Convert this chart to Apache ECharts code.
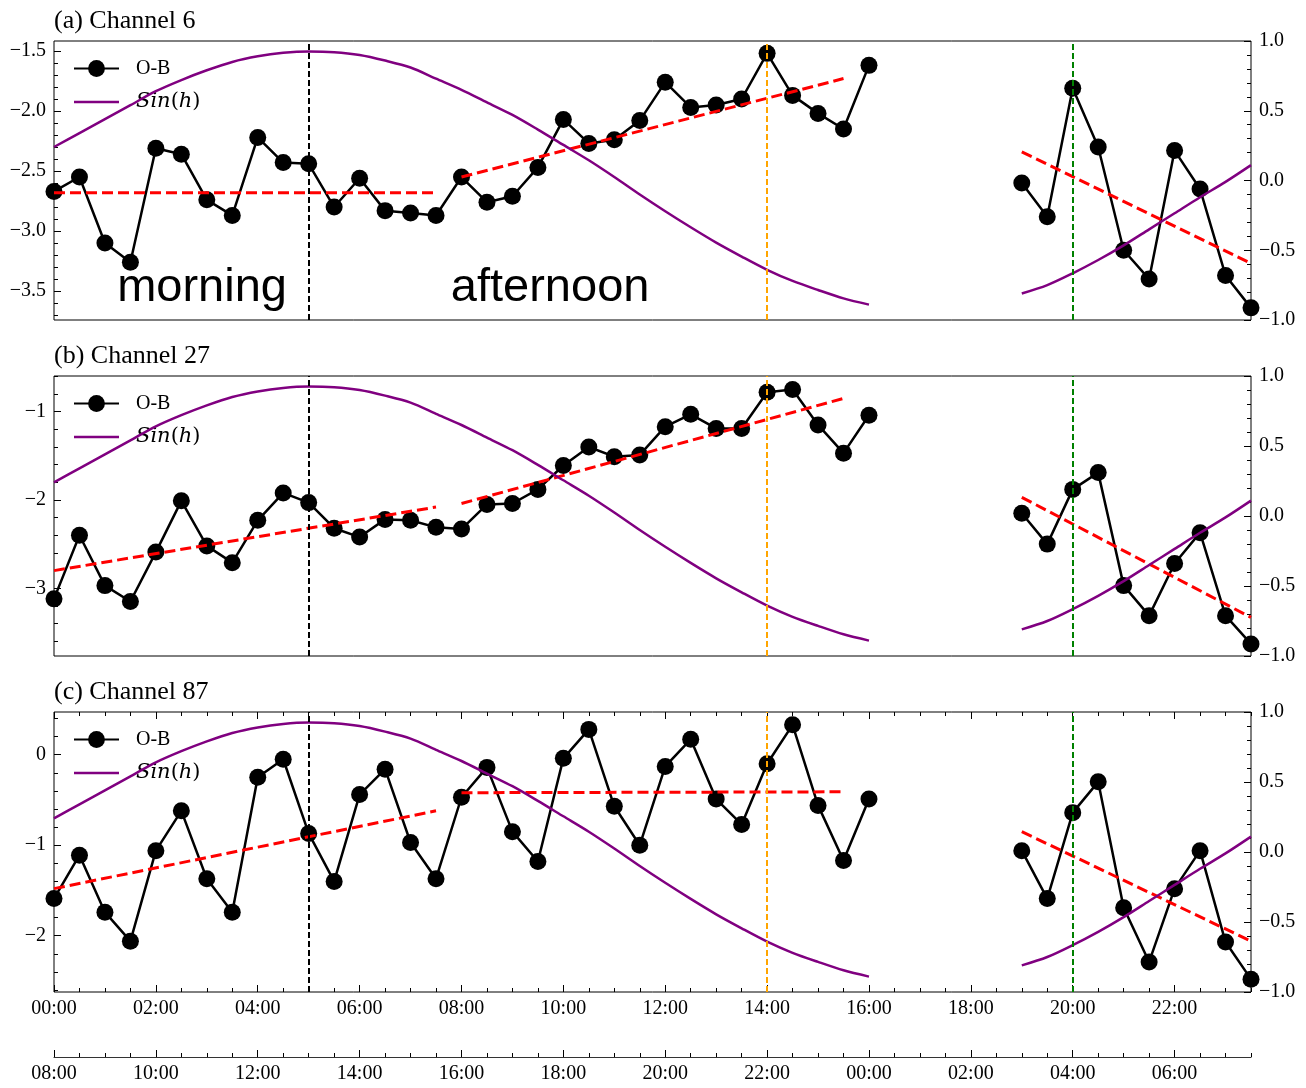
<!DOCTYPE html>
<html>
<head>
<meta charset="utf-8">
<script src="https://cdn.jsdelivr.net/npm/echarts@6/dist/echarts.min.js"></script>
<style>
html,body{margin:0;padding:0;background:#fff;}
#chart{width:1306px;height:1088px;}
</style>
</head>
<body>
<div id="chart"></div>
<script>
// ---------------- data ----------------
const dayHours = [0,0.5,1,1.5,2,2.5,3,3.5,4,4.5,5,5.5,6,6.5,7,7.5,8,8.5,9,9.5,10,10.5,11,11.5,12,12.5,13,13.5,14,14.5,15,15.5,16];
const nightHours = [19,19.5,20,20.5,21,21.5,22,22.5,23,23.5];

const panelTitles = ['(a) Channel 6', '(b) Channel 27', '(c) Channel 87'];

const obDayA = [-2.67,-2.55,-3.10,-3.26,-2.31,-2.36,-2.74,-2.87,-2.22,-2.43,-2.44,-2.80,-2.56,-2.83,-2.85,-2.87,
                -2.55,-2.76,-2.71,-2.47,-2.07,-2.27,-2.24,-2.08,-1.76,-1.97,-1.95,-1.90,-1.52,-1.87,-2.02,-2.15,-1.62];
const obNightA = [-2.60,-2.88,-1.81,-2.30,-3.16,-3.40,-2.33,-2.65,-3.37,-3.64];

const obDayB = [-3.12,-2.40,-2.97,-3.15,-2.59,-2.01,-2.52,-2.71,-2.23,-1.92,-2.03,-2.32,-2.42,-2.22,-2.23,-2.31,
                -2.33,-2.05,-2.04,-1.88,-1.61,-1.40,-1.51,-1.49,-1.17,-1.03,-1.19,-1.19,-0.78,-0.75,-1.15,-1.47,-1.04];
const obNightB = [-2.15,-2.50,-1.88,-1.69,-2.97,-3.31,-2.72,-2.37,-3.31,-3.63];

const obDayC = [-1.59,-1.11,-1.74,-2.06,-1.06,-0.62,-1.37,-1.74,-0.25,-0.05,-0.87,-1.40,-0.44,-0.16,-0.97,-1.37,
                -0.47,-0.14,-0.85,-1.18,-0.04,0.28,-0.57,-1.00,-0.13,0.17,-0.49,-0.77,-0.10,0.33,-0.56,-1.17,-0.49];
const obNightC = [-1.06,-1.59,-0.64,-0.30,-1.69,-2.29,-1.48,-1.06,-2.07,-2.48];

const sinDay = [0.24,0.34,0.44,0.54,0.64,0.72,0.79,0.85,0.89,0.915,0.925,0.92,0.90,0.86,0.81,0.73,
                0.65,0.56,0.47,0.365,0.255,0.145,0.025,-0.10,-0.22,-0.335,-0.445,-0.545,-0.64,-0.72,-0.785,-0.845,-0.89];
const sinNight = [-0.81,-0.75,-0.665,-0.57,-0.465,-0.35,-0.235,-0.12,-0.01,0.11];

const trendMorningHours = [0, 7.5];
const trendAfternoonHours = [8, 15.5];
const trendNightHours = [19, 23.5];
const trendMorningA = [-2.68, -2.68];
const trendAfternoonA = [-2.55, -1.73];
const trendNightA = [-2.34, -3.27];
const trendMorningB = [-2.80, -2.08];
const trendAfternoonB = [-2.04, -0.85];
const trendNightB = [-1.97, -3.33];
const trendMorningC = [-1.48, -0.62];
const trendAfternoonC = [-0.42, -0.41];
const trendNightC = [-0.85, -2.06];

const markerHours = [5, 14, 20];

const majorHourTicks = [0,2,4,6,8,10,12,14,16,18,20,22];
const utcTickLabels = ['00:00','02:00','04:00','06:00','08:00','10:00','12:00','14:00','16:00','18:00','20:00','22:00'];
const bjtTickLabels = ['08:00','10:00','12:00','14:00','16:00','18:00','20:00','22:00','00:00','02:00','04:00','06:00'];

const leftTicksA = [-3.5,-3.0,-2.5,-2.0,-1.5];
const leftTicksB = [-3,-2,-1];
const leftTicksC = [-2,-1,0];

const annotationTexts = ['morning', 'afternoon'];
const annotationHours = [1.25, 7.8];

// ---------------- layout / style ----------------
const FONT = 'Liberation Serif';
const gridTops = [41, 376, 712];
const gridHeights = [279, 280, 280];
const leftRanges = [[-3.741, -1.417], [-3.767, -0.596], [-2.622, 0.472]];
const leftMinorStep = [0.1, 0.2, 0.2];
const leftDecimals = [1, 0, 0];
const annotationY = -3.475;

const minus = s => s.replace('-', '\u2212');
function stepValues(lo, hi, step) {
  const out = [];
  const start = Math.ceil(lo / step - 1e-9);
  const end = Math.floor(hi / step + 1e-9);
  for (let k = start; k <= end; k++) out.push(Math.round(k * step * 1000) / 1000);
  return out;
}
const pair = (hs, vs) => hs.map((h, i) => [h, vs[i]]);

const panels = [
  {ob: [obDayA, obNightA], trend: [trendMorningA, trendAfternoonA, trendNightA], ticks: leftTicksA},
  {ob: [obDayB, obNightB], trend: [trendMorningB, trendAfternoonB, trendNightB], ticks: leftTicksB},
  {ob: [obDayC, obNightC], trend: [trendMorningC, trendAfternoonC, trendNightC], ticks: leftTicksC}
];

const labelStyle = {fontFamily: FONT, fontSize: 20, color: '#000'};
const tickLine = {color: '#000', width: 1};

const grid = gridTops.map((t, i) => ({
  left: 54, right: 55, top: t, height: gridHeights[i],
  show: true, borderColor: '#000', borderWidth: 1, backgroundColor: 'transparent'
}));

function baseX(gi, extra) {
  return Object.assign({
    type: 'value', gridIndex: gi, min: 0, max: 23.5, position: 'bottom',
    axisLine: {show: false, onZero: false},
    axisTick: {show: false},
    axisLabel: {show: false},
    splitLine: {show: false}
  }, extra || {});
}

const xAxis = [
  baseX(0), baseX(1),
  baseX(2, {
    axisTick: {show: true, inside: true, length: 7, customValues: majorHourTicks, lineStyle: tickLine},
    axisLabel: Object.assign({show: true, margin: 7, customValues: majorHourTicks,
      formatter: v => utcTickLabels[majorHourTicks.indexOf(v)]}, labelStyle)
  }),
  baseX(2, {interval: 0.5, axisTick: {show: true, inside: true, length: 4, lineStyle: tickLine}}),
  baseX(2, {position: 'top', axisTick: {show: true, inside: true, length: 7, customValues: majorHourTicks, lineStyle: tickLine}}),
  baseX(2, {position: 'top', interval: 0.5, axisTick: {show: true, inside: true, length: 4, lineStyle: tickLine}}),
  baseX(2, {
    offset: 65,
    axisLine: {show: true, onZero: false, lineStyle: {color: '#333', width: 1.2}},
    axisTick: {show: true, inside: true, length: 7, customValues: majorHourTicks, lineStyle: tickLine},
    axisLabel: Object.assign({show: true, margin: 7, customValues: majorHourTicks,
      formatter: v => bjtTickLabels[majorHourTicks.indexOf(v)]}, labelStyle)
  }),
  baseX(2, {offset: 65, interval: 0.5, axisTick: {show: true, inside: true, length: 4, lineStyle: tickLine}})
];
const mainX = [0, 1, 2];

const yAxis = [];
panels.forEach((p, gi) => {
  const [lo, hi] = leftRanges[gi];
  const dec = leftDecimals[gi];
  yAxis.push({
    type: 'value', gridIndex: gi, position: 'left', min: lo, max: hi,
    axisLine: {show: false, onZero: false},
    axisTick: {show: true, inside: true, length: 7, customValues: p.ticks, lineStyle: tickLine},
    axisLabel: Object.assign({show: true, margin: 8, customValues: p.ticks,
      formatter: v => minus(v.toFixed(dec))}, labelStyle),
    splitLine: {show: false}
  });
  yAxis.push({
    type: 'value', gridIndex: gi, position: 'left', min: lo, max: hi,
    axisLine: {show: false, onZero: false},
    axisTick: {show: true, inside: true, length: 4, customValues: stepValues(lo, hi, leftMinorStep[gi]), lineStyle: tickLine},
    axisLabel: {show: false},
    splitLine: {show: false}
  });
  yAxis.push({
    type: 'value', gridIndex: gi, position: 'right', min: -1, max: 1, interval: 0.5,
    axisLine: {show: false, onZero: false},
    axisTick: {show: true, inside: true, length: 7, lineStyle: tickLine},
    minorTick: {show: true, splitNumber: 5, length: 4, lineStyle: tickLine},
    axisLabel: Object.assign({show: true, margin: 8, formatter: v => minus(v.toFixed(1))}, labelStyle),
    splitLine: {show: false}, minorSplitLine: {show: false}
  });
});

const series = [];
const markerColors = ['#000000', '#FFA500', '#008000'];
panels.forEach((p, gi) => {
  const xi = mainX[gi], yl = gi * 3, yr = gi * 3 + 2;
  [dayHours, nightHours].forEach((hs, k) => {
    series.push({
      type: 'line', name: 'O-B', xAxisIndex: xi, yAxisIndex: yl,
      data: pair(hs, p.ob[k]),
      symbol: 'circle', symbolSize: 17, showSymbol: true,
      itemStyle: {color: '#000'}, lineStyle: {color: '#000', width: 2.5},
      z: 2, animation: false, silent: true
    });
  });
  const trendHours = [trendMorningHours, trendAfternoonHours, trendNightHours];
  trendHours.forEach((hs, k) => {
    const s = {
      type: 'line', name: 'trend', xAxisIndex: xi, yAxisIndex: yl,
      data: pair(hs, p.trend[k]), symbol: 'none',
      lineStyle: {color: '#ff0000', width: 3, type: [11, 5]},
      itemStyle: {color: '#ff0000'},
      z: 3, animation: false, silent: true
    };
    if (k === 0) {
      s.markLine = {
        silent: true, symbol: ['none', 'none'], animation: false, z: 6,
        label: {show: false},
        data: markerHours.map((h, m) => ({xAxis: h, lineStyle: {color: markerColors[m], width: 2, type: [6, 3]}}))
      };
    }
    series.push(s);
  });
  [dayHours, nightHours].forEach((hs, k) => {
    series.push({
      type: 'line', name: 'Sin(h)', xAxisIndex: xi, yAxisIndex: yr,
      data: pair(hs, k === 0 ? sinDay : sinNight), symbol: 'none', smooth: 0.3,
      itemStyle: {color: '#800080'}, lineStyle: {color: '#800080', width: 2.5},
      z: 4, animation: false, silent: true
    });
  });
});
series.push({
  type: 'scatter', xAxisIndex: 0, yAxisIndex: 0, symbolSize: 1,
  itemStyle: {color: 'rgba(0,0,0,0)', opacity: 1}, silent: true, animation: false, z: 5,
  data: annotationTexts.map((t, i) => ({name: t, value: [annotationHours[i], annotationY]})),
  label: {show: true, formatter: '{b}', position: [0, 0], align: 'left', verticalAlign: 'middle',
    fontFamily: 'Liberation Sans', fontSize: 47, color: '#000', opacity: 1}
});

const legend = gridTops.map(t => ({
  orient: 'vertical', left: 73, top: t + 28 - 10.5, padding: 0,
  itemWidth: 45, itemHeight: 21, itemGap: 13,
  selectedMode: false,
  data: ['O-B', {name: 'Sin(h)', icon: 'path://M0,0H100V5.5H0Z'}],
  formatter: n => n === 'Sin(h)' ? '{it|Sin}{p|(}{it|h}{p|)}' : n,
  textStyle: {
    fontFamily: FONT, fontSize: 20, color: '#000', padding: [0, 0, 0, 12],
    rich: {
      it: {fontFamily: 'DejaVu Serif', fontStyle: 'italic', fontSize: 21, color: '#000'},
      p: {fontFamily: 'DejaVu Serif', fontSize: 21, color: '#000'}
    }
  }
}));

const title = panelTitles.map((t, i) => ({
  text: t, left: 54, top: gridTops[i] - 33, padding: 0,
  textStyle: {fontFamily: FONT, fontSize: 26, fontWeight: 'normal', color: '#000'}
}));

const chart = echarts.init(document.getElementById('chart'), null, {renderer: 'canvas'});
chart.setOption({
  animation: false,
  backgroundColor: '#fff',
  textStyle: {fontFamily: FONT},
  title, legend, grid, xAxis, yAxis, series
});
</script>
</body>
</html>
